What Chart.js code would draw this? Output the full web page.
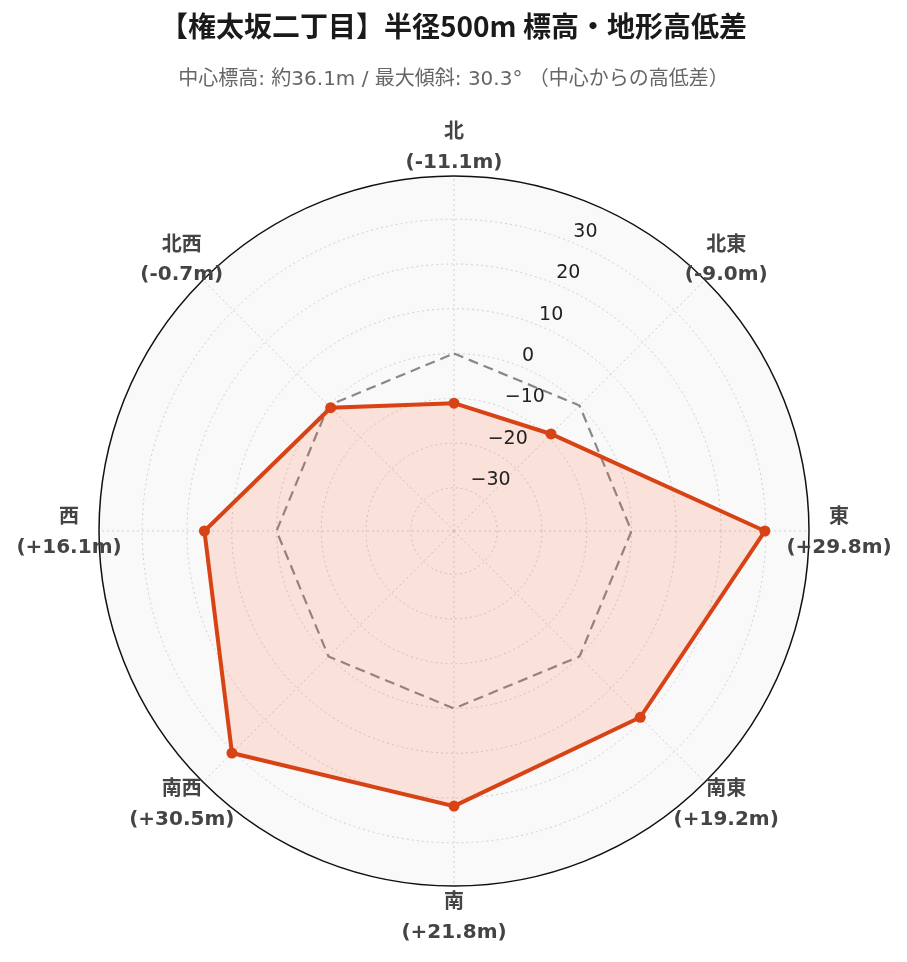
<!DOCTYPE html>
<html>
<head>
<meta charset="utf-8">
<script src="https://cdn.jsdelivr.net/npm/chart.js@4/dist/chart.umd.min.js"></script>
<style>
  body { margin: 0; background: #fff; }
</style>
</head>
<body>
<canvas id="myChart" width="907" height="962"></canvas>
<script>
var directions = ["北", "北東", "東", "南東", "南", "南西", "西", "北西"];
var diffValues = [-11.1, -9.0, 29.8, 19.2, 21.8, 30.5, 16.1, -0.7];
var baseValues = [0, 0, 0, 0, 0, 0, 0, 0];
var tickValues = [-30, -20, -10, 0, 10, 20, 30];
var rangeLimit = 39.65;

var titleText = "【権太坂二丁目】半径500m 標高・地形高低差";
var subtitleText = "中心標高: 約36.1m / 最大傾斜: 30.3° （中心からの高低差）";

function fmtDiff(v) {
  return "(" + (v >= 0 ? "+" : "-") + Math.abs(v).toFixed(1) + "m)";
}

// outer ring, tick labels along a tilted axis, and two-line direction labels
const radarDecor = {
  id: "radarDecor",
  beforeDatasetsDraw(chart) {
    const s = chart.scales.r;
    const ctx = chart.ctx;
    ctx.save();
    ctx.beginPath();
    ctx.arc(s.xCenter, s.yCenter, s.drawingArea, 0, Math.PI * 2);
    ctx.strokeStyle = "#111";
    ctx.lineWidth = 1.5;
    ctx.stroke();
    ctx.restore();
  },
  afterDraw(chart) {
    const s = chart.scales.r;
    const ctx = chart.ctx;
    ctx.save();

    const a = 22.5 * Math.PI / 180;
    ctx.font = "19px 'DejaVu Sans', sans-serif";
    ctx.fillStyle = "#222";
    ctx.textAlign = "left";
    ctx.textBaseline = "middle";
    tickValues.forEach(function (v) {
      const d = s.getDistanceFromCenterForValue(v);
      const x = s.xCenter + d * Math.sin(a);
      const y = s.yCenter - d * Math.cos(a);
      const txt = v < 0 ? "\u2212" + Math.abs(v) : String(v);
      ctx.fillText(txt, x, y - 11);
    });

    ctx.font = "bold 20px 'DejaVu Sans', 'Noto Sans CJK JP', sans-serif";
    ctx.fillStyle = "#444";
    ctx.textAlign = "center";
    directions.forEach(function (name, i) {
      const p = s.getPointPosition(i, s.drawingArea + 30);
      ctx.fillText(name, p.x, p.y - 13);
      ctx.fillText(fmtDiff(diffValues[i]), p.x, p.y + 16.5);
    });
    ctx.restore();
  }
};

new Chart("myChart", {
  type: "radar",
  data: {
    labels: directions,
    datasets: [{
      data: diffValues,
      borderColor: "#d84315",
      borderWidth: 4,
      backgroundColor: "rgba(255, 87, 34, 0.15)",
      fill: "start",
      pointRadius: 5.5,
      pointBackgroundColor: "#d84315",
      pointBorderColor: "#d84315",
      pointBorderWidth: 0
    }, {
      data: baseValues,
      borderColor: "#888",
      borderWidth: 2.2,
      borderDash: [10, 6],
      fill: false,
      pointRadius: 0
    }]
  },
  options: {
    responsive: false,
    animation: false,
    layout: { padding: { bottom: 20 } },
    plugins: {
      legend: { display: false },
      tooltip: { enabled: false },
      title: {
        display: true,
        text: titleText,
        color: "#1a1a1a",
        font: { family: "'Noto Sans CJK JP', sans-serif", size: 28, weight: "bold" },
        padding: { top: 10, bottom: 10 }
      },
      subtitle: {
        display: true,
        text: subtitleText,
        color: "#666",
        font: { family: "'DejaVu Sans', 'Noto Sans CJK JP', sans-serif", size: 20 },
        padding: { top: 14, bottom: 10 }
      }
    },
    scales: {
      r: {
        min: -rangeLimit,
        max: rangeLimit,
        bounds: "data",
        backgroundColor: "#f9f9f9",
        ticks: { display: false, stepSize: 10, includeBounds: false },
        afterBuildTicks: function (s) {
          s.ticks = tickValues.map(function (v) { return { value: v }; });
        },
        grid: { circular: true, color: "#d0d0d0", lineWidth: 1 },
        border: { dash: [2, 3] },
        angleLines: { color: "#d0d0d0", lineWidth: 1, borderDash: [2, 3] },
        pointLabels: { display: false },
        afterFit: function (s) {
          // place the polar area like the original figure
          s.xCenter = 454;
          s.yCenter = 531;
          s.drawingArea = 355;
        }
      }
    }
  },
  plugins: [radarDecor]
});
</script>
</body>
</html>
